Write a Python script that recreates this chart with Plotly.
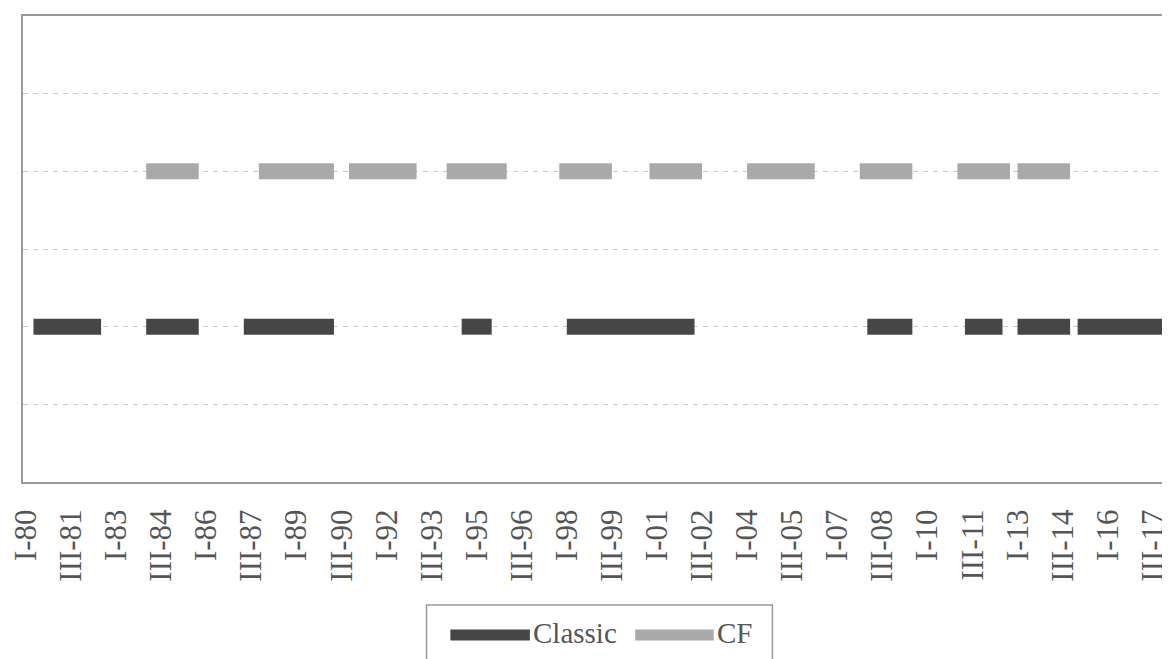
import plotly.graph_objects as go

# ---------------- data ----------------
ROMAN = ["I", "II", "III", "IV"]
quarters = [f"{ROMAN[q % 4]}-{(80 + q // 4) % 100:02d}" for q in range(153)]  # I-80 .. I-18

tick_labels = ["I-80", "III-81", "I-83", "III-84", "I-86", "III-87", "I-89", "III-90",
               "I-92", "III-93", "I-95", "III-96", "I-98", "III-99", "I-01", "III-02",
               "I-04", "III-05", "I-07", "III-08", "I-10", "III-11", "I-13", "III-14",
               "I-16", "III-17"]

classic_start = ["II-80", "I-84", "II-87", "III-94", "I-98", "I-08", "II-11", "I-13", "I-15"]
classic_end   = ["III-82", "IV-85", "II-90", "III-95", "II-02", "III-09", "III-12", "IV-14", "I-18"]
classic_level = 2

cf_start = ["I-84", "IV-87", "IV-90", "I-94", "IV-97", "IV-00", "I-04", "IV-07", "I-11", "I-13"]
cf_end   = ["IV-85", "II-90", "I-93", "I-96", "III-99", "III-02", "II-06", "III-09", "IV-12", "IV-14"]
cf_level = 4

CLASSIC_COLOR = "#464646"
CF_COLOR = "#a9a9a9"
TEXT_COLOR = "#555555"
FONT = "Liberation Serif"


def seg_xy(starts, ends, level):
    xs, ys = [], []
    for s, e in zip(starts, ends):
        xs += [s, e, None]
        ys += [level, level, None]
    return xs, ys


fig = go.Figure()
cx, cy = seg_xy(classic_start, classic_end, classic_level)
fig.add_trace(go.Scatter(x=cx, y=cy, mode="lines", name="Classic",
                         line=dict(color=CLASSIC_COLOR, width=16),
                         connectgaps=False, showlegend=False))
fx, fy = seg_xy(cf_start, cf_end, cf_level)
fig.add_trace(go.Scatter(x=fx, y=fy, mode="lines", name="CF",
                         line=dict(color=CF_COLOR, width=16),
                         connectgaps=False, showlegend=False))

OFF = 8  # page body margin
W, H = 1162, 651
L, R, T, B = 14, 0, 8, 177
PW, PH = W - L - R, H - T - B


def px(x):
    return (x - OFF - L) / PW


def py(y):
    return (H - B - (y - OFF)) / PH


# manual legend (box partially cut at bottom like the reference)
fig.add_shape(type="rect", xref="paper", yref="paper",
              x0=px(428), x1=px(776), y0=py(668), y1=py(605),
              line=dict(color="#9a9a9a", width=1.5), fillcolor="white")
for (x0, x1, col, name, tx) in [(452, 532, CLASSIC_COLOR, "Classic", 533),
                                (638, 717, CF_COLOR, "CF", 718)]:
    fig.add_shape(type="line", xref="paper", yref="paper",
                  x0=px(x0), x1=px(x1), y0=py(635), y1=py(635),
                  line=dict(color=col, width=11))
    fig.add_annotation(text=name, xref="paper", yref="paper",
                       x=px(tx), y=py(633), xanchor="left", yanchor="middle",
                       showarrow=False,
                       font=dict(family=FONT, size=29, color=TEXT_COLOR))

fig.update_layout(
    width=W, height=H, autosize=False,
    margin=dict(l=L, r=R, t=T, b=B, pad=0),
    paper_bgcolor="white", plot_bgcolor="white",
    showlegend=False,
)
fig.update_xaxes(
    type="category", categoryorder="array", categoryarray=quarters,
    range=[-0.397, 151.5],
    tickmode="array", tickvals=tick_labels, ticktext=tick_labels,
    tickangle=-90, tickfont=dict(family=FONT, size=31, color=TEXT_COLOR),
    ticks="outside", ticklen=13, tickcolor="rgba(0,0,0,0)",
    showgrid=False, showline=True, linecolor="#999999", linewidth=2, mirror=True,
    zeroline=False,
)
fig.update_yaxes(
    range=[0, 6], dtick=1, tick0=0, showticklabels=False, ticks="",
    showgrid=True, gridcolor="#c8c8c8", gridwidth=1, griddash="5px,5px",
    showline=True, linecolor="#999999", linewidth=2, mirror=False,
    zeroline=False,
)

fig.write_html("out.html")
